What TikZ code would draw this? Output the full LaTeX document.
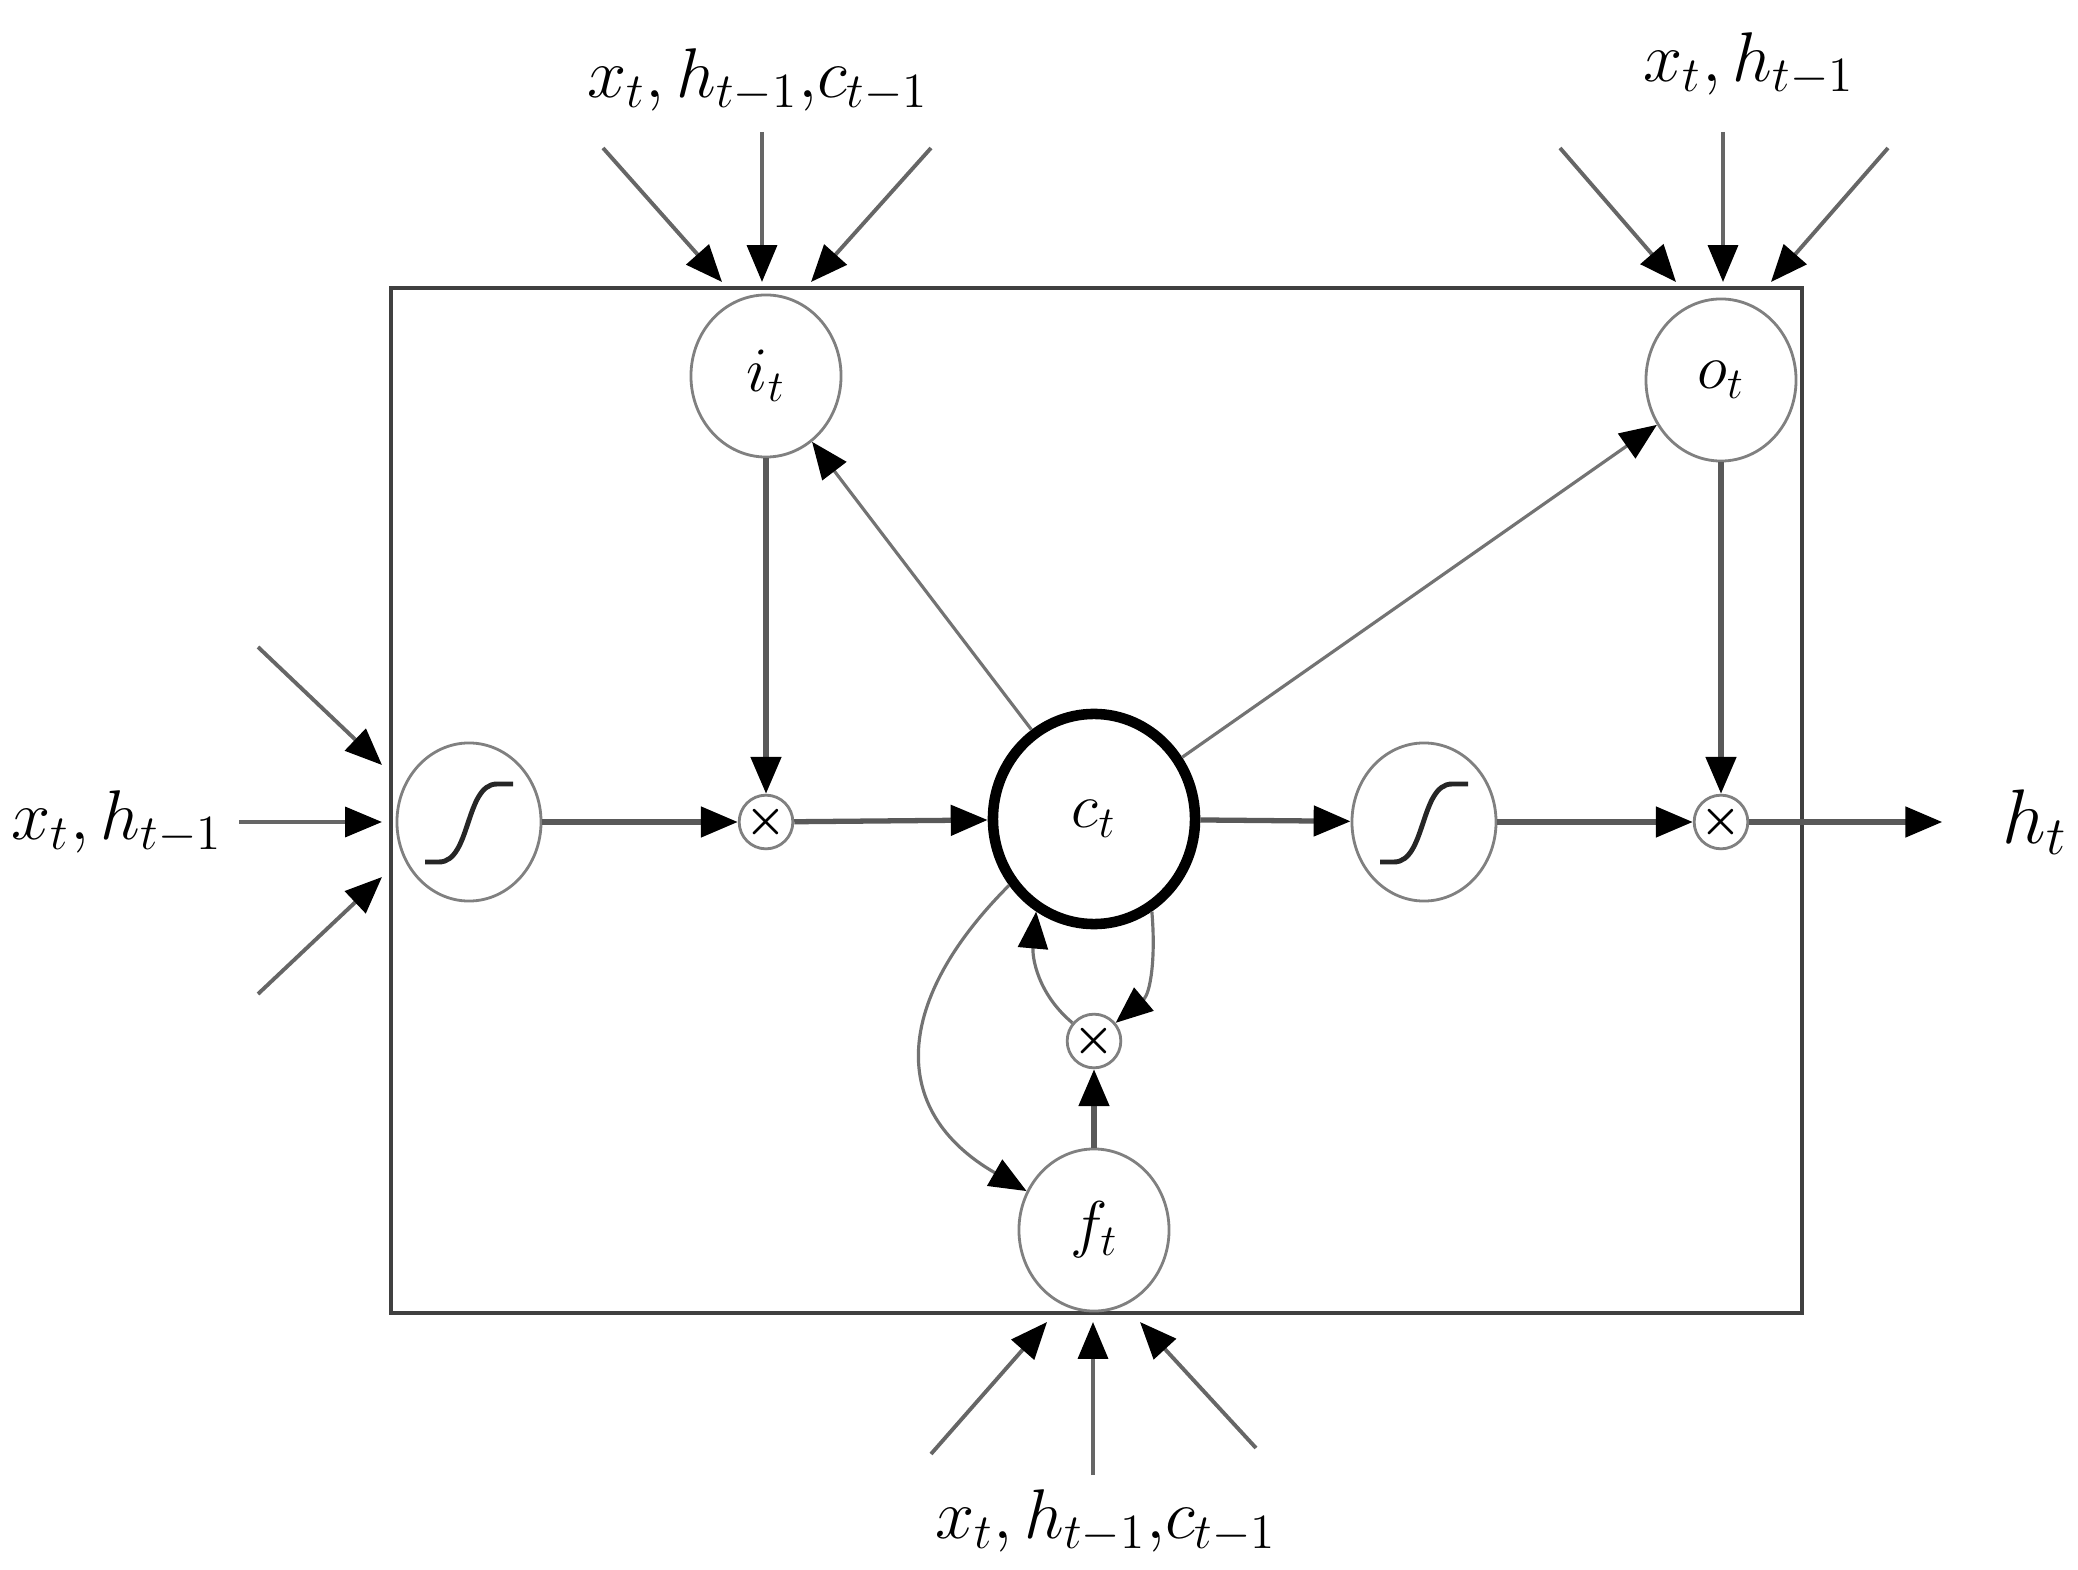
\RequirePackage{fix-cm}
\documentclass[tikz,border=0pt]{standalone}
\usepackage{amsmath}
\usepackage{tikz}
\usetikzlibrary{arrows.meta, positioning, calc, shapes.geometric}

\begin{document}
\begin{tikzpicture}[
  x=0.01cm, y=-0.01cm,
  tip/.style={-{Triangle[length=10.5pt, width=8.5pt, color=black]}},
  flow/.style={tip, draw=black!65, line width=1.5pt},
  thinflow/.style={tip, draw=black!55, line width=0.9pt},
  feed/.style={tip, draw=black!60, line width=1.1pt},
  gate/.style={ellipse, draw=black!50, line width=0.8pt, minimum width=1.5cm, minimum height=1.62cm, inner sep=0pt, font=\fontsize{18}{20}\selectfont},
  squash/.style={gate, minimum width=1.44cm, minimum height=1.58cm,
    path picture={\draw[line width=1.4pt, black!85]
      ([shift={(-44,40)}]path picture bounding box.center) -- ++(14,0)
      .. controls +(32,0) and +(-32,0) .. ++(58,-78) -- ++(16,0);}},
  cell/.style={ellipse, draw=black, line width=3pt, minimum width=2.02cm, minimum height=2.1cm, inner sep=0pt, font=\fontsize{18}{20}\selectfont},
  mult/.style={circle, draw=black!50, line width=0.8pt, minimum size=0.42cm, inner sep=0pt, font=\fontsize{13}{13}\selectfont},
  lbl/.style={inner sep=0pt, font=\fontsize{20}{24}\selectfont},
]
  \useasboundingbox (0,0) rectangle (2078,1570);

  % ── Cell frame ──
  \draw[black!75, line width=1.2pt] (391,288) rectangle (1802,1313);

  % ── Nodes ──
  \node[gate] (it) at (766,376) {$i_t$};
  \node[gate] (ot) at (1721,380) {$o_t$};
  \node[squash] (sigL) at (469,822) {};
  \node[mult] (m1) at (766,822) {$\boldsymbol{\times}$};
  \node[cell] (ct) at (1094,819) {$c_t$};
  \node[squash] (sigR) at (1424,822) {};
  \node[mult] (m2) at (1721,822) {$\boldsymbol{\times}$};
  \node[mult] (m3) at (1094,1041) {$\boldsymbol{\times}$};
  \node[gate] (ft) at (1094,1230) {$f_t$};
  \node[lbl, font=\fontsize{22}{26}\selectfont] (ht) at (2035,822) {$h_t$};

  % ── Input labels ──
  \node[lbl] (inI) at (758,80) {$x_t, h_{t-1}{,}c_{t-1}$};
  \node[lbl] (inO) at (1749,64) {$x_t, h_{t-1}$};
  \node[lbl] (inG) at (117,822) {$x_t, h_{t-1}$};
  \node[lbl] (inF) at (1106,1521) {$x_t, h_{t-1}{,}c_{t-1}$};

  % ── Input feeds ──
  \foreach \n/\sx/\sy/\ex in {1/603/148/722, 2/762/132/762, 3/931/148/811} {
    \coordinate (iS\n) at (\sx,\sy);
    \coordinate (iE\n) at (\ex,282);
    \draw[feed] (iS\n) -- (iE\n);
  }
  \foreach \n/\sx/\sy/\ex in {1/1560/148/1676, 2/1723/132/1723, 3/1888/148/1771} {
    \coordinate (oS\n) at (\sx,\sy);
    \coordinate (oE\n) at (\ex,282);
    \draw[feed] (oS\n) -- (oE\n);
  }
  \foreach \n/\sx/\sy/\ey in {1/258/647/765, 2/239/822/822, 3/258/994/877} {
    \coordinate (gS\n) at (\sx,\sy);
    \coordinate (gE\n) at (382,\ey);
    \draw[feed] (gS\n) -- (gE\n);
  }
  \foreach \n/\sx/\sy/\ex in {1/931/1454/1047, 2/1093/1475/1093, 3/1256/1448/1140} {
    \coordinate (fS\n) at (\sx,\sy);
    \coordinate (fE\n) at (\ex,1322);
    \draw[feed] (fS\n) -- (fE\n);
  }

  % ── Main path ──
  \draw[flow] (sigL) -- (m1);
  \draw[flow] (it) -- (m1);
  \draw[flow] (m1) -- (ct);
  \draw[flow] (ct) -- (sigR);
  \draw[flow] (sigR) -- (m2);
  \draw[flow] (ot) -- (m2);
  \draw[flow, shorten >=17pt] (m2) -- (ht);

  % ── Peepholes ──
  \draw[thinflow] (ct.125) -- (it.-55);
  \draw[thinflow] (ct) -- (ot);
  \draw[thinflow] (ct.-142) to[out=-135, in=150, looseness=1.35] (ft);

  % ── Forget loop ──
  \draw[thinflow] (ct.-58) to[out=-85, in=40] (m3);
  \draw[thinflow] (m3) to[out=140, in=-95] (ct.-122);
  \draw[flow] (ft) -- (m3);

\end{tikzpicture}
\end{document}
